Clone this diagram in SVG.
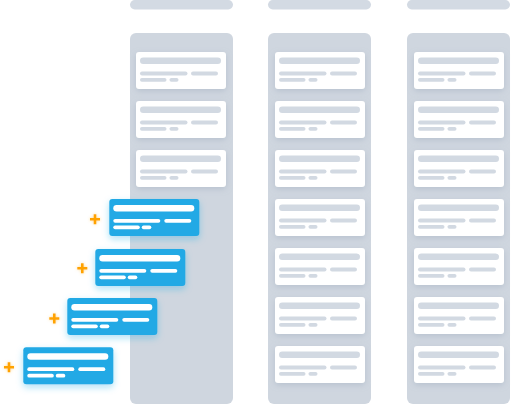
<svg xmlns="http://www.w3.org/2000/svg" xmlns:xlink="http://www.w3.org/1999/xlink" width="520" height="405" viewBox="0 0 520 405">
  <style>
    .hdr { fill: #d3dae3; }
    .panel { fill: #cfd6df; }
    .card { fill: #ffffff; filter: url(#cardShadow); }
    .gbar { fill: #d2d9e2; }
    .bcard { fill: #22a9e5; filter: url(#blueShadow); }
    .wbar { fill: #ffffff; }
    .plus { stroke: #ffa200; stroke-width: 2.6; stroke-linecap: butt; filter: url(#plusGlow); }
  </style>
  <defs>
    <filter id="cardShadow" x="-20%" y="-30%" width="140%" height="170%">
      <feDropShadow dx="0" dy="2" stdDeviation="3" flood-color="#8a9ab0" flood-opacity="0.35"/>
    </filter>
    <filter id="blueShadow" x="-20%" y="-30%" width="140%" height="170%">
      <feDropShadow dx="0" dy="3" stdDeviation="3.5" flood-color="#22a9e5" flood-opacity="0.35"/>
    </filter>
    <filter id="plusGlow" x="-100%" y="-100%" width="300%" height="300%">
      <feDropShadow dx="0" dy="0" stdDeviation="1.5" flood-color="#ffc24d" flood-opacity="0.6"/>
    </filter>
    <g id="grayCard">
      <rect class="card" x="0" y="0" width="90" height="37" rx="3"/>
      <rect class="gbar" x="4" y="5.5" width="81" height="6.5" rx="3.25"/>
      <rect class="gbar" x="4" y="19.5" width="47.5" height="4" rx="2"/>
      <rect class="gbar" x="55" y="19.5" width="27" height="4" rx="2"/>
      <rect class="gbar" x="4" y="26" width="26.5" height="3.7" rx="1.85"/>
      <rect class="gbar" x="33.5" y="26" width="9" height="3.7" rx="1.85"/>
    </g>
    <g id="blueCard">
      <rect class="bcard" x="0" y="0" width="90" height="37" rx="3"/>
      <rect class="wbar" x="4" y="6" width="81" height="6.5" rx="3.25"/>
      <rect class="wbar" x="4" y="20" width="47" height="3.7" rx="1.85"/>
      <rect class="wbar" x="55" y="20" width="27" height="3.7" rx="1.85"/>
      <rect class="wbar" x="4" y="26.5" width="26.5" height="3.7" rx="1.85"/>
      <rect class="wbar" x="32.5" y="26.5" width="9.5" height="3.7" rx="1.85"/>
    </g>
    <path id="plus" class="plus" d="M-5,0 H5 M0,-5 V5"/>
  </defs>

  <g id="column1">
    <rect class="hdr" x="130" y="0" width="103" height="9.5" rx="4.75"/>
    <rect class="panel" x="130" y="33" width="103" height="371" rx="6"/>
    <use xlink:href="#grayCard" x="136" y="52"/>
    <use xlink:href="#grayCard" x="136" y="101"/>
    <use xlink:href="#grayCard" x="136" y="150"/>
  </g>

  <g id="column2">
    <rect class="hdr" x="268" y="0" width="103" height="9.5" rx="4.75"/>
    <rect class="panel" x="268" y="33" width="103" height="371" rx="6"/>
    <use xlink:href="#grayCard" x="275" y="52"/>
    <use xlink:href="#grayCard" x="275" y="101"/>
    <use xlink:href="#grayCard" x="275" y="150"/>
    <use xlink:href="#grayCard" x="275" y="199"/>
    <use xlink:href="#grayCard" x="275" y="248"/>
    <use xlink:href="#grayCard" x="275" y="297"/>
    <use xlink:href="#grayCard" x="275" y="346"/>
  </g>

  <g id="column3">
    <rect class="hdr" x="407" y="0" width="103" height="9.5" rx="4.75"/>
    <rect class="panel" x="407" y="33" width="103" height="371" rx="6"/>
    <use xlink:href="#grayCard" x="414" y="52"/>
    <use xlink:href="#grayCard" x="414" y="101"/>
    <use xlink:href="#grayCard" x="414" y="150"/>
    <use xlink:href="#grayCard" x="414" y="199"/>
    <use xlink:href="#grayCard" x="414" y="248"/>
    <use xlink:href="#grayCard" x="414" y="297"/>
    <use xlink:href="#grayCard" x="414" y="346"/>
  </g>

  <g id="newCard1">
    <use xlink:href="#plus" x="95" y="219.3"/>
    <use xlink:href="#blueCard" x="109.3" y="199"/>
  </g>
  <g id="newCard2">
    <use xlink:href="#plus" x="82.3" y="268.3"/>
    <use xlink:href="#blueCard" x="95.3" y="249"/>
  </g>
  <g id="newCard3">
    <use xlink:href="#plus" x="54.3" y="318.5"/>
    <use xlink:href="#blueCard" x="67.3" y="298"/>
  </g>
  <g id="newCard4">
    <use xlink:href="#plus" x="9" y="367.3"/>
    <use xlink:href="#blueCard" x="23.3" y="347.3"/>
  </g>
</svg>
